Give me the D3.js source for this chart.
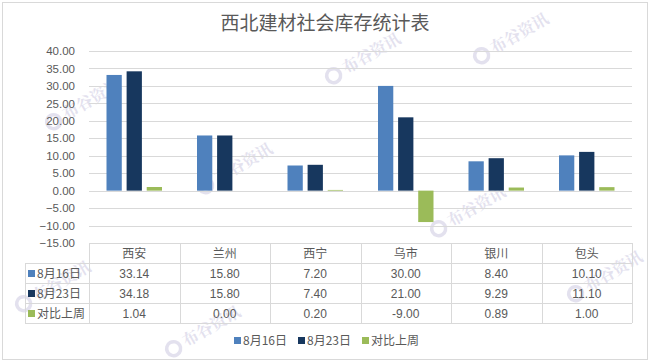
<!DOCTYPE html>
<html>
<head>
<meta charset="utf-8">
<script src="https://cdn.jsdelivr.net/npm/d3@7"></script>
<style>
  body { margin: 0; background: #fff; }
  text { font-family: "Liberation Sans", "Noto Sans CJK SC", sans-serif; fill: #595959; }
</style>
</head>
<body>
<div id="chart"></div>
<script>
// Chart data
var cities = ["西安", "兰州", "西宁", "乌市", "银川", "包头"];
var seriesNames = ["8月16日", "8月23日", "对比上周"];
var aug16 = [33.14, 15.80, 7.20, 30.00, 8.40, 10.10];
var aug23 = [34.18, 15.80, 7.40, 21.00, 9.29, 11.10];
var weekDiff = [1.04, 0.00, 0.20, -9.00, 0.89, 1.00];
var yTicks = [-15, -10, -5, 0, 5, 10, 15, 20, 25, 30, 35, 40];

var colors = ["#4F81BD", "#17375E", "#9BBB59"];
var allSeries = [aug16, aug23, weekDiff];

var svgWidth = 650;
var svgHeight = 363;

// plot area
var plotLeft = 89, plotRight = 632, plotTop = 51, plotBottom = 243;

var svg = d3.select("#chart")
  .append("svg")
  .attr("width", svgWidth)
  .attr("height", svgHeight);

// chart frame
svg.append("rect")
  .attr("x", 2.5).attr("y", 2.5)
  .attr("width", 645).attr("height", 357)
  .attr("fill", "#fff")
  .attr("stroke", "#D9D9D9");

// watermarks (faint), kept inside the frame and clear of the title
var marks = [[70, 118], [222, 182], [350, 72], [455, 225], [498, 52], [592, 290], [40, 300], [190, 345]];
marks.forEach(function (m) {
  var g = svg.append("g").attr("transform", `translate(${m[0]},${m[1]}) rotate(-30)`).attr("opacity", 0.28);
  g.append("circle").attr("cx", -16).attr("cy", -5).attr("r", 7)
    .attr("fill", "none").attr("stroke", "#9c95c6").attr("stroke-width", 3.5);
  g.append("text").attr("x", -4).attr("y", 0)
    .style("font-family", "'Noto Serif CJK SC', 'Noto Sans CJK SC'")
    .style("font-size", "16px").style("font-weight", "bold")
    .style("fill", "#9c95c6")
    .text("布谷资讯");
});

// title
svg.append("text")
  .attr("x", 325)
  .attr("y", 30)
  .attr("text-anchor", "middle")
  .style("font-family", "'Noto Sans CJK SC'")
  .style("font-size", "19px")
  .text("西北建材社会库存统计表");

// scales
var x0 = d3.scaleBand()
  .domain(cities)
  .range([plotLeft, plotRight]);

var groupWidth = 55.5;
var x1 = d3.scaleBand()
  .domain(seriesNames)
  .range([0, groupWidth])
  .paddingInner(0.24);

var y = d3.scaleLinear()
  .domain([-15, 40])
  .range([plotBottom, plotTop]);

// gridlines
svg.append("g")
  .selectAll("line")
  .data(yTicks)
  .enter()
  .append("line")
  .attr("x1", plotLeft)
  .attr("x2", plotRight)
  .attr("y1", d => Math.round(y(d)) + 0.5)
  .attr("y2", d => Math.round(y(d)) + 0.5)
  .attr("stroke", "#D9D9D9");

// left axis labels
var leftAxis = d3.axisLeft(y)
  .tickValues(yTicks)
  .tickFormat(d3.format(".2f"))
  .tickSize(0)
  .tickPadding(14);

var axisG = svg.append("g")
  .attr("transform", `translate(${plotLeft}, 0)`)
  .call(leftAxis);
axisG.select(".domain").remove();
axisG.selectAll("text")
  .style("font-size", "11.5px")
  .attr("fill", "#595959");

// bars
seriesNames.forEach(function (name, si) {
  svg.append("g")
    .selectAll("rect")
    .data(allSeries[si])
    .enter()
    .append("rect")
    .attr("x", (d, i) => x0(cities[i]) + (x0.bandwidth() - groupWidth) / 2 + x1(name))
    .attr("width", x1.bandwidth())
    .attr("y", d => y(Math.max(0, d)))
    .attr("height", d => Math.abs(y(d) - y(0)))
    .attr("fill", colors[si]);
});

// data table
var rowH = 20;
var tableTop = plotBottom;
var keyLeft = 25;
var table = svg.append("g");
var lineColor = "#D9D9D9";

// horizontal lines
table.append("line")
  .attr("x1", plotLeft).attr("x2", plotRight)
  .attr("y1", tableTop + 0.5).attr("y2", tableTop + 0.5)
  .attr("stroke", lineColor);
for (var r = 1; r <= 4; r++) {
  table.append("line")
    .attr("x1", keyLeft).attr("x2", plotRight)
    .attr("y1", tableTop + r * rowH + 0.5).attr("y2", tableTop + r * rowH + 0.5)
    .attr("stroke", lineColor);
}
// vertical lines
table.append("line")
  .attr("x1", keyLeft + 0.5).attr("x2", keyLeft + 0.5)
  .attr("y1", tableTop + rowH).attr("y2", tableTop + 4 * rowH)
  .attr("stroke", lineColor);
table.selectAll(".vline")
  .data(cities.concat(["end"]))
  .enter()
  .append("line")
  .attr("x1", (d, i) => Math.round(plotLeft + i * x0.bandwidth()) + 0.5)
  .attr("x2", (d, i) => Math.round(plotLeft + i * x0.bandwidth()) + 0.5)
  .attr("y1", tableTop)
  .attr("y2", tableTop + 4 * rowH)
  .attr("stroke", lineColor);

// header labels
table.selectAll(".cat")
  .data(cities)
  .enter()
  .append("text")
  .attr("x", d => x0(d) + x0.bandwidth() / 2)
  .attr("y", tableTop + 15)
  .attr("text-anchor", "middle")
  .style("font-family", "'Noto Sans CJK SC'")
  .style("font-size", "12px")
  .text(d => d);

// rows
seriesNames.forEach(function (name, si) {
  var rowY = tableTop + (si + 1) * rowH;
  table.append("rect")
    .attr("x", 28).attr("y", rowY + 7)
    .attr("width", 7).attr("height", 7)
    .attr("fill", colors[si]);
  table.append("text")
    .attr("x", 37).attr("y", rowY + 15)
    .style("font-family", "'Noto Sans CJK SC'")
    .style("font-size", "12px")
    .text(name);
  table.selectAll(".v" + si)
    .data(allSeries[si])
    .enter()
    .append("text")
    .attr("x", (d, i) => x0(cities[i]) + x0.bandwidth() / 2)
    .attr("y", rowY + 15)
    .attr("text-anchor", "middle")
    .style("font-size", "12px")
    .text(d => d.toFixed(2));
});

// legend
var legendX = [234, 298, 362];
var legend = svg.append("g");
seriesNames.forEach(function (name, si) {
  legend.append("rect")
    .attr("x", legendX[si]).attr("y", 337)
    .attr("width", 7).attr("height", 7)
    .attr("fill", colors[si]);
  legend.append("text")
    .attr("x", legendX[si] + 9).attr("y", 345)
    .style("font-family", "'Noto Sans CJK SC'")
    .style("font-size", "12px")
    .text(name);
});
</script>
</body>
</html>
